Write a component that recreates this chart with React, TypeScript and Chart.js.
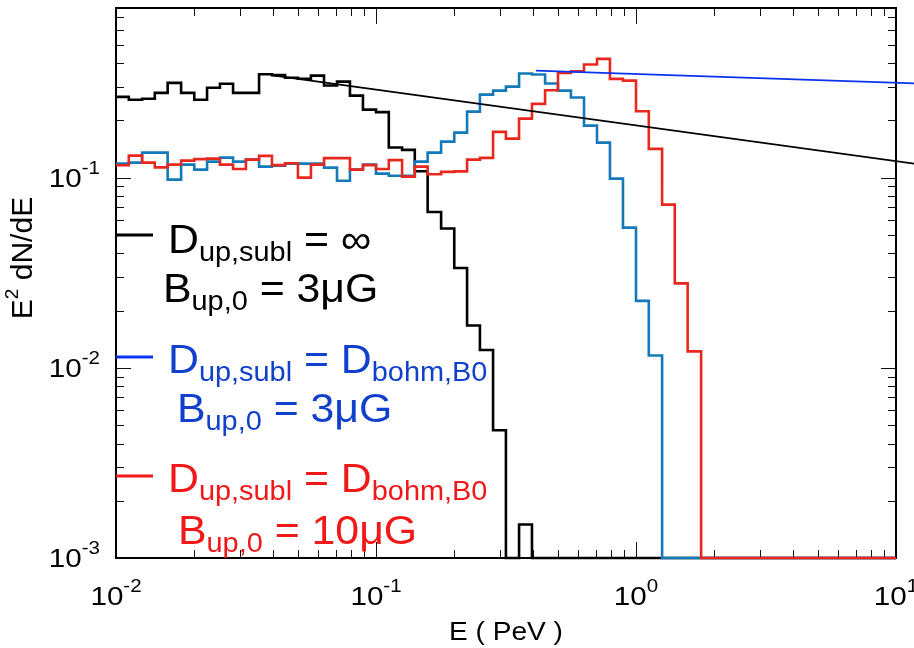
import React, { useEffect, useRef } from 'react';
import { Chart, registerables } from 'chart.js';

Chart.register(...registerables);

// ---- data ----
// histogram bin edges (PeV), 20 bins per decade
const binEdges = [
  0.0100, 0.0112, 0.0126, 0.0141, 0.0158, 0.0178, 0.0200, 0.0224, 0.0251, 0.0282,
  0.0316, 0.0355, 0.0398, 0.0447, 0.0501, 0.0562, 0.0631, 0.0708, 0.0794, 0.0891,
  0.100, 0.112, 0.126, 0.141, 0.158, 0.178, 0.200, 0.224, 0.251, 0.282,
  0.316, 0.355, 0.398, 0.447, 0.501, 0.562, 0.631, 0.708, 0.794, 0.891,
  1.00, 1.12, 1.26, 1.41, 1.58, 1.78, 2.00, 2.24, 2.51, 2.82,
  3.16, 3.55, 3.98, 4.47, 5.01, 5.62, 6.31, 7.08, 7.94, 8.91, 10.0,
];

// D_up,subl = infinity, B_up,0 = 3 muG (black)
const specNoDiff = [
  0.266, 0.257, 0.260, 0.279, 0.315, 0.279, 0.257, 0.297, 0.312, 0.279,
  0.279, 0.350, 0.346, 0.335, 0.331, 0.344, 0.305, 0.320, 0.270, 0.228,
  0.221, 0.144, 0.140, 0.108, 0.066, 0.054, 0.0335, 0.0167, 0.0124, 0.0047,
  0, 0.0015, 0, 0, 0, 0, 0, 0, 0, 0,
  0, 0, 0, 0, 0, 0, 0, 0, 0, 0,
  0, 0, 0, 0, 0, 0, 0, 0, 0, 0,
];

// D_up,subl = D_bohm,B0, B_up,0 = 3 muG (blue)
const specBohm3 = [
  0.1185, 0.1200, 0.1354, 0.1354, 0.0976, 0.1171, 0.1102, 0.1214, 0.1274, 0.1214,
  0.1244, 0.1143, 0.1157, 0.1185, 0.1185, 0.1185, 0.1129, 0.0964, 0.1102, 0.1171,
  0.1050, 0.1024, 0.1024, 0.1214, 0.1354, 0.1547, 0.1725, 0.2225, 0.2734, 0.2870,
  0.3012, 0.3527, 0.3484, 0.3125, 0.2870, 0.2637, 0.1878, 0.1528, 0.0988, 0.0546,
  0.0225, 0.0116, 0, 0, 0, 0, 0, 0, 0, 0,
  0, 0, 0, 0, 0, 0, 0, 0, 0, 0,
];

// D_up,subl = D_bohm,B0, B_up,0 = 10 muG (red)
const specBohm10 = [
  0.1161, 0.1305, 0.1200, 0.1133, 0.1171, 0.1229, 0.1252, 0.1259, 0.1171, 0.1111,
  0.1244, 0.1301, 0.1164, 0.1190, 0.1000, 0.1171, 0.1266, 0.1266, 0.1102, 0.1164,
  0.1111, 0.1236, 0.1012, 0.1143, 0.1043, 0.1072, 0.1079, 0.1244, 0.1270, 0.1740,
  0.1604, 0.2044, 0.2443, 0.2881, 0.3557, 0.3627, 0.3933, 0.4214, 0.3307, 0.3239,
  0.2233, 0.1416, 0.0721, 0.0278, 0.0122, 0, 0, 0, 0, 0,
  0, 0, 0, 0, 0, 0, 0, 0, 0, 0,
];

// reference power laws
const powerLawE = [0.04, 12];
const powerLawNoDiff = [0.345, 0.118];
const powerLawBohmE = [0.412, 12];
const powerLawBohm = [0.365, 0.313];

const xTickExponents = [-2, -1, 0, 1];
const yTickExponents = [-3, -2, -1];
const X_MIN = 0.01;
const X_MAX = 10;
const Y_MIN = 0.001;
const Y_MAX = 0.78;

const FONT = '"Liberation Sans", Arial, Helvetica, sans-serif';
const C_BLACK = '#000000';
const C_BLUE_H = '#1479b8';
const C_RED_H = '#e8281e';
const C_BLUE_L = '#0a32f0';
const C_BLUE_T = '#1040cc';
const C_RED_T = '#f01818';

type Run = { t: string; size: number; dy?: number };

function drawRuns(
  ctx: CanvasRenderingContext2D,
  x: number,
  y: number,
  runs: Run[],
  color: string,
  sx = 1,
  align: 'left' | 'right' | 'center' = 'left'
) {
  ctx.save();
  ctx.fillStyle = color;
  ctx.textBaseline = 'alphabetic';
  ctx.textAlign = 'left';
  let total = 0;
  const widths: number[] = [];
  for (const r of runs) {
    ctx.font = `${r.size}px ${FONT}`;
    const w = ctx.measureText(r.t).width;
    widths.push(w);
    total += w;
  }
  ctx.translate(x, y);
  ctx.scale(sx, 1);
  let cx = align === 'left' ? 0 : align === 'right' ? -total : -total / 2;
  runs.forEach((r, i) => {
    ctx.font = `${r.size}px ${FONT}`;
    ctx.fillText(r.t, cx, r.dy || 0);
    cx += widths[i];
  });
  ctx.restore();
}

function histPoints(vals: number[]) {
  return binEdges.map((e, i) => ({
    x: e,
    y: Math.max(vals[Math.min(i, vals.length - 1)], Y_MIN),
  }));
}

function tickValues(minExp: number, maxExp: number) {
  const out: { v: number; major: boolean; exp: number }[] = [];
  for (let e = minExp; e <= maxExp; e++) {
    for (let m = 1; m <= 9; m++) {
      out.push({ v: m * Math.pow(10, e), major: m === 1, exp: e });
    }
  }
  return out;
}

const framePlugin = {
  id: 'framePlugin',
  beforeDatasetsDraw(chart: any) {
    const { ctx, chartArea: a, scales } = chart;
    const xs = scales.x;
    const ys = scales.y;
    ctx.save();
    ctx.strokeStyle = '#111';
    ctx.lineWidth = 1;
    // x ticks
    for (const t of tickValues(-2, 1)) {
      if (t.v < X_MIN - 1e-9 || t.v > X_MAX + 1e-9) continue;
      const px = Math.round(xs.getPixelForValue(t.v)) + 0.5;
      const len = t.major ? 16 : 8;
      ctx.beginPath();
      ctx.moveTo(px, a.bottom);
      ctx.lineTo(px, a.bottom - len);
      ctx.moveTo(px, a.top);
      ctx.lineTo(px, a.top + len);
      ctx.stroke();
    }
    // y ticks
    for (const t of tickValues(-3, -1)) {
      if (t.v < Y_MIN - 1e-12 || t.v > Y_MAX) continue;
      const py = Math.round(ys.getPixelForValue(t.v)) + 0.5;
      const len = t.major ? 15 : 8;
      ctx.beginPath();
      ctx.moveTo(a.left, py);
      ctx.lineTo(a.left + len, py);
      ctx.moveTo(a.right, py);
      ctx.lineTo(a.right - len, py);
      ctx.stroke();
    }
    // frame
    ctx.lineWidth = 2;
    ctx.strokeStyle = '#000';
    ctx.strokeRect(a.left, a.top, a.right - a.left, a.bottom - a.top);
    ctx.restore();
  },
  afterDraw(chart: any) {
    const { ctx, chartArea: a, scales } = chart;
    const xs = scales.x;
    const ys = scales.y;
    // tick labels
    for (const e of xTickExponents) {
      const px = xs.getPixelForValue(Math.pow(10, e));
      drawRuns(ctx, px, a.bottom + 47, [
        { t: '10', size: 26 },
        { t: String(e), size: 18, dy: -13 },
      ], C_BLACK, 1.14, 'center');
    }
    for (const e of yTickExponents) {
      const py = ys.getPixelForValue(Math.pow(10, e));
      drawRuns(ctx, a.left - 16, py + 9, [
        { t: '10', size: 26 },
        { t: String(e), size: 18, dy: -13 },
      ], C_BLACK, 1.14, 'right');
    }
    // axis titles
    drawRuns(ctx, (a.left + a.right) / 2, 640, [{ t: 'E ( PeV )', size: 26 }], C_BLACK, 1.08, 'center');
    ctx.save();
    ctx.translate(32, 258);
    ctx.rotate(-Math.PI / 2);
    drawRuns(ctx, 0, 0, [
      { t: 'E', size: 30 },
      { t: '2', size: 19, dy: -14 },
      { t: ' dN/dE', size: 30 },
    ], C_BLACK, 1, 'center');
    ctx.restore();

    // legend
    const legendLine = (y: number, color: string) => {
      ctx.save();
      ctx.strokeStyle = color;
      ctx.lineWidth = 3;
      ctx.beginPath();
      ctx.moveTo(a.left, y);
      ctx.lineTo(a.left + 37, y);
      ctx.stroke();
      ctx.restore();
    };
    const M = 40;
    const S = 27;
    const SX = 1.07;
    legendLine(235, C_BLACK);
    drawRuns(ctx, 168, 253, [
      { t: 'D', size: M },
      { t: 'up,subl', size: S, dy: 8 },
      { t: ' = \u221E', size: M },
    ], C_BLACK, SX);
    drawRuns(ctx, 163, 302, [
      { t: 'B', size: M },
      { t: 'up,0', size: S, dy: 8 },
      { t: ' = 3\u03BCG', size: M },
    ], C_BLACK, SX);

    legendLine(357, C_BLUE_L);
    drawRuns(ctx, 168, 373, [
      { t: 'D', size: M },
      { t: 'up,subl', size: S, dy: 8 },
      { t: ' = D', size: M },
      { t: 'bohm,B0', size: S, dy: 8 },
    ], C_BLUE_T, SX);
    drawRuns(ctx, 177, 422, [
      { t: 'B', size: M },
      { t: 'up,0', size: S, dy: 8 },
      { t: ' = 3\u03BCG', size: M },
    ], C_BLUE_T, SX);

    legendLine(476, C_RED_T);
    drawRuns(ctx, 168, 492, [
      { t: 'D', size: M },
      { t: 'up,subl', size: S, dy: 8 },
      { t: ' = D', size: M },
      { t: 'bohm,B0', size: S, dy: 8 },
    ], C_RED_T, SX);
    drawRuns(ctx, 178, 544, [
      { t: 'B', size: M },
      { t: 'up,0', size: S, dy: 8 },
      { t: ' = 10\u03BCG', size: M },
    ], C_RED_T, SX);
  },
};

export default function App() {
  const canvasRef = useRef<HTMLCanvasElement | null>(null);

  useEffect(() => {
    const canvas = canvasRef.current;
    if (!canvas) return;
    const chart = new Chart(canvas, {
      type: 'line',
      data: {
        datasets: [
          {
            label: 'power law (no diffusion)',
            data: powerLawE.map((x, i) => ({ x, y: powerLawNoDiff[i] })),
            borderColor: C_BLACK,
            borderWidth: 1.6,
            pointRadius: 0,
            clip: false,
          },
          {
            label: 'power law (Bohm)',
            data: powerLawBohmE.map((x, i) => ({ x, y: powerLawBohm[i] })),
            borderColor: C_BLUE_L,
            borderWidth: 1.8,
            pointRadius: 0,
            clip: false,
          },
          {
            label: 'Bohm, 10 muG',
            data: histPoints(specBohm10),
            borderColor: C_RED_H,
            borderWidth: 2.6,
            stepped: 'before',
            pointRadius: 0,
            clip: false,
          },
          {
            label: 'Bohm, 3 muG',
            data: histPoints(specBohm3),
            borderColor: C_BLUE_H,
            borderWidth: 2.6,
            stepped: 'before',
            pointRadius: 0,
            clip: false,
          },
          {
            label: 'no diffusion',
            data: histPoints(specNoDiff),
            borderColor: C_BLACK,
            borderWidth: 2.6,
            stepped: 'before',
            pointRadius: 0,
            clip: false,
          },
        ] as any,
      },
      options: {
        responsive: false,
        maintainAspectRatio: false,
        animation: false,
        layout: { padding: { left: 116, right: 18, top: 8, bottom: 90 } },
        plugins: {
          legend: { display: false },
          tooltip: { enabled: false },
        },
        elements: { point: { radius: 0 }, line: { tension: 0 } },
        scales: {
          x: { type: 'logarithmic', min: X_MIN, max: X_MAX, display: false },
          y: { type: 'logarithmic', min: Y_MIN, max: Y_MAX, display: false },
        },
      } as any,
      plugins: [framePlugin],
    });
    return () => chart.destroy();
  }, []);

  return (
    <div style={{ position: 'absolute', left: 0, top: 0, width: 914, height: 648, background: '#fff' }}>
      <canvas ref={canvasRef} width={914} height={648} style={{ display: 'block' }} />
    </div>
  );
}
